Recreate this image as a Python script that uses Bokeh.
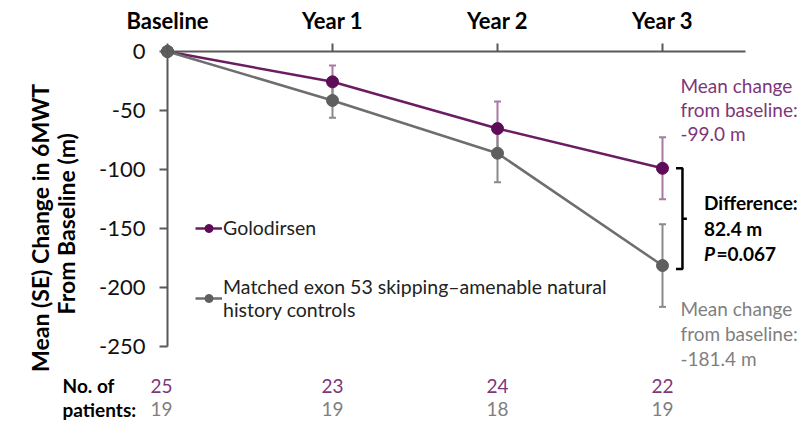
import math
from bokeh.plotting import figure
from bokeh.models import (Range1d, LinearAxis, FixedTicker, Whisker, ColumnDataSource,
                          Legend, LegendItem, TeeHead)
from bokeh.core.properties import value
from bokeh.embed import file_html
from bokeh.resources import INLINE

# ---- data ----
timepoints = ["Baseline", "Year 1", "Year 2", "Year 3"]
tp_x = [0, 1, 2, 3]
golo_mean = [0, -25.7, -65.3, -99.0]
golo_se = [0, 13.8, 23.0, 26.3]
ctrl_mean = [0, -41.5, -86.2, -181.4]
ctrl_se = [0, 14.7, 24.5, 35.0]
golo_n = [25, 23, 24, 22]
ctrl_n = [19, 19, 18, 19]
y_ticks = [0, -50, -100, -150, -200, -250]
y_title = ["Mean (SE) Change in 6MWT", "From Baseline (m)"]
golo_label = "Golodirsen"
ctrl_label = "Matched exon 53 skipping\u2013amenable natural\nhistory controls"
golo_note = ["Mean change", "from baseline:", "-99.0 m"]
ctrl_note = ["Mean change", "from baseline:", "-181.4 m"]
diff_lines = ["Difference:", "82.4 m"]
p_value = "=0.067"
n_label = ["No. of", "patients:"]

# ---- style ----
FONT = "Lato"
PURPLE = "#5e0b58"
PURPLE_LINE = "#6a1d63"
PURPLE_ERR = "#a77aa3"
PURPLE_TXT = "#7e3679"
GRAY = "#5f5f5f"
GRAY_LINE = "#6e6e6e"
GRAY_ERR = "#8a8a8a"
GRAY_TXT = "#7f7f7f"
AXIS = "#595959"

p = figure(width=799, height=423, x_range=Range1d(-1.0121, 3.8303), y_range=Range1d(-315.25, 43.22),
           x_axis_type=None, y_axis_type=None, toolbar_location=None, output_backend="svg",
           min_border=0, outline_line_color=None)

yax = LinearAxis(fixed_location=0, bounds=(-250, 0), ticker=FixedTicker(ticks=y_ticks),
                 major_label_overrides={t: str(t) for t in y_ticks},
                 axis_line_color=AXIS, axis_line_width=2, major_tick_line_color=AXIS,
                 major_tick_line_width=2, major_tick_in=0, major_tick_out=8,
                 major_label_text_font=FONT, major_label_text_font_size="22px",
                 major_label_text_color="#111111", major_label_standoff=14)
p.add_layout(yax, "left")

xax = LinearAxis(fixed_location=0, bounds=(0, 3.503), ticker=FixedTicker(ticks=tp_x),
                 major_label_overrides={x: t for x, t in zip(tp_x, timepoints)},
                 axis_line_color=AXIS, axis_line_width=2, major_tick_line_color=AXIS,
                 major_tick_line_width=2, major_tick_in=0, major_tick_out=8,
                 major_label_text_font=FONT, major_label_text_font_size="22px",
                 major_label_text_font_style="bold", major_label_text_color="#000000",
                 major_label_standoff=10)
p.add_layout(xax, "above")

# y-axis title (rotated text)
p.text(x=[-0.770, -0.618], y=[-149.5, -146.0], text=y_title, angle=math.pi / 2,
       text_font=value(FONT), text_font_size="23px", text_font_style="bold",
       text_color="#000000", text_align="center", text_baseline="middle")

# error bars
def err_source(mean, se):
    xs = [x for x, s in zip(tp_x, se) if s > 0]
    up = [m + s for m, s in zip(mean, se) if s > 0]
    lo = [m - s for m, s in zip(mean, se) if s > 0]
    return ColumnDataSource(dict(x=xs, upper=up, lower=lo))

for mean, se, col in [(golo_mean, golo_se, PURPLE_ERR), (ctrl_mean, ctrl_se, GRAY_ERR)]:
    w = Whisker(source=err_source(mean, se), base="x", upper="upper", lower="lower",
                line_color=col, line_width=2,
                upper_head=TeeHead(size=7, line_color=col, line_width=2),
                lower_head=TeeHead(size=7, line_color=col, line_width=2))
    p.add_layout(w)

gl = p.line(tp_x, golo_mean, line_color=PURPLE_LINE, line_width=2.5)
cl = p.line(tp_x, ctrl_mean, line_color=GRAY_LINE, line_width=2.5)
gs = p.scatter(tp_x, golo_mean, size=12, fill_color=PURPLE, line_color=PURPLE)
cs = p.scatter(tp_x, ctrl_mean, size=12, fill_color=GRAY, line_color=GRAY)

legend = Legend(items=[LegendItem(label=golo_label, renderers=[gl, gs]),
                       LegendItem(label=ctrl_label, renderers=[cl, cs])],
                location=(195, 102), orientation="vertical",
                background_fill_alpha=0, border_line_alpha=0,
                label_text_font=FONT, label_text_font_size="19.5px", label_text_color="#222222",
                glyph_width=27, glyph_height=20, label_standoff=1, label_height=20,
                spacing=36, padding=0, margin=0)
p.add_layout(legend)

# right-side notes
note_x = 3.109
p.text(x=[note_x] * 3, y=[-28.8, -49.2, -69.5], text=golo_note, text_font=value(FONT),
       text_font_size="19px", text_color=PURPLE_TXT, text_baseline="middle")
p.text(x=[note_x] * 3, y=[-217.8, -239.0, -260.2], text=ctrl_note, text_font=value(FONT),
       text_font_size="19px", text_color=GRAY_TXT, text_baseline="middle")

# difference bracket (from the year-3 means)
top = golo_mean[-1]
bot = ctrl_mean[-1] - 3
mid = (top + bot) / 2
bx, bl, br = 3.121, 3.082, 3.148
p.multi_line(xs=[[bl, bx, bx, bl], [bx, br]], ys=[[top, top, bot, bot], [mid, mid]],
             line_color="#000000", line_width=2.5)
dx = 3.252
p.text(x=[dx, dx], y=[-128.0, -150.0], text=diff_lines, text_font=value(FONT),
       text_font_size="19px", text_font_style="bold", text_color="#000000", text_baseline="middle")
p.text(x=[dx], y=[-171.2], text=["P"], text_font=value(FONT), text_font_size="19px",
       text_font_style="bold italic", text_color="#000000", text_baseline="middle")
p.text(x=[dx + 0.075], y=[-171.2], text=[p_value], text_font=value(FONT), text_font_size="19px",
       text_font_style="bold", text_color="#000000", text_baseline="middle")

# number of patients
n_x = [-0.036, 1, 2, 3]
p.text(x=[-0.636, -0.636], y=[-283.1, -303.0], text=n_label, text_font=value(FONT),
       text_font_size="19px", text_font_style="bold", text_color="#000000", text_baseline="middle")
p.text(x=n_x, y=[-283.1] * 4, text=[str(n) for n in golo_n], text_font=value(FONT),
       text_font_size="19px", text_color=PURPLE_TXT, text_align="center", text_baseline="middle")
p.text(x=n_x, y=[-303.0] * 4, text=[str(n) for n in ctrl_n], text_font=value(FONT),
       text_font_size="19px", text_color=GRAY_TXT, text_align="center", text_baseline="middle")

open("out.html", "w").write(file_html(p, INLINE))
